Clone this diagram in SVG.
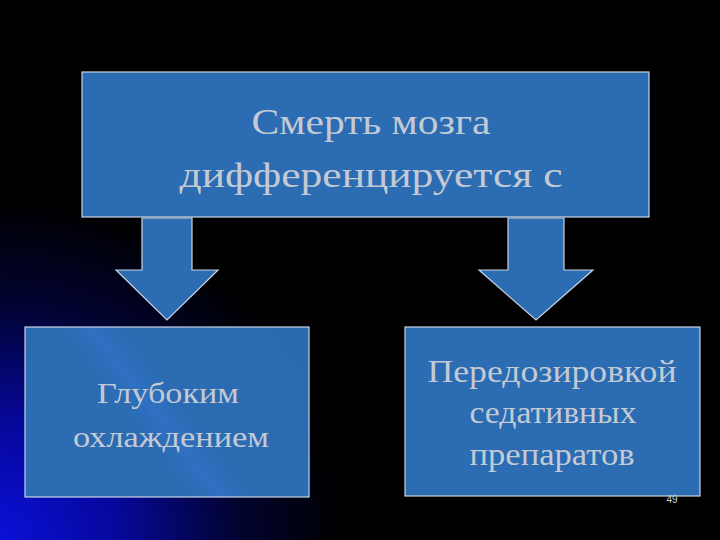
<svg xmlns="http://www.w3.org/2000/svg" width="720" height="540" viewBox="0 0 720 540">
<defs>
<radialGradient id="bg" cx="0" cy="540" r="340" gradientUnits="userSpaceOnUse">
<stop offset="0" stop-color="#0a10d8"/>
<stop offset="0.35" stop-color="#06089a"/>
<stop offset="0.7" stop-color="#020330"/>
<stop offset="1" stop-color="#000000"/>
</radialGradient>
<linearGradient id="streak" x1="60" y1="497" x2="280" y2="327" gradientUnits="userSpaceOnUse">
<stop offset="0" stop-color="#2b6cb3"/>
<stop offset="0.38" stop-color="#2b6cb3"/>
<stop offset="0.46" stop-color="#2f70c2"/>
<stop offset="0.54" stop-color="#2b6cb3"/>
<stop offset="1" stop-color="#2a6aae"/>
</linearGradient>
<style>
.box{fill:#2b6cb3;stroke:#c8d4e4;stroke-width:1.2}
.t{font-family:"Liberation Serif","DejaVu Serif",serif;fill:#c3cad4;text-anchor:middle}
</style>
</defs>
<rect width="720" height="540" fill="#000"/>
<rect width="720" height="540" fill="url(#bg)"/>
<g id="connectors">
<polygon class="box" points="142,218 192,218 192,270 218,270 167,320 116,270 142,270"/>
<polygon class="box" points="508,218 564,218 564,270 593,270 536,320 479,270 508,270"/>
</g>
<g id="top">
<rect class="box" x="82" y="72" width="567" height="145"/>
<text class="t" font-size="36" x="371" y="134" textLength="239" lengthAdjust="spacingAndGlyphs">Смерть мозга</text>
<text class="t" font-size="36" x="371" y="187" textLength="383" lengthAdjust="spacingAndGlyphs">дифференцируется с</text>
</g>
<g id="left">
<rect class="box" x="25" y="327" width="284" height="170" style="fill:url(#streak)"/>
<text class="t" font-size="30" x="168" y="403" textLength="142" lengthAdjust="spacingAndGlyphs">Глубоким</text>
<text class="t" font-size="30" x="171" y="447" textLength="196" lengthAdjust="spacingAndGlyphs">охлаждением</text>
</g>
<g id="right">
<rect class="box" x="405" y="327" width="295" height="169"/>
<text class="t" font-size="31" x="552" y="382" textLength="249" lengthAdjust="spacingAndGlyphs">Передозировкой</text>
<text class="t" font-size="31" x="553" y="423" textLength="167" lengthAdjust="spacingAndGlyphs">седативных</text>
<text class="t" font-size="31" x="552" y="465" textLength="165" lengthAdjust="spacingAndGlyphs">препаратов</text>
</g>
<text x="672" y="503" font-family="Liberation Sans,Arial,sans-serif" font-size="10" fill="#d0d0d0" text-anchor="middle">49</text>
</svg>
